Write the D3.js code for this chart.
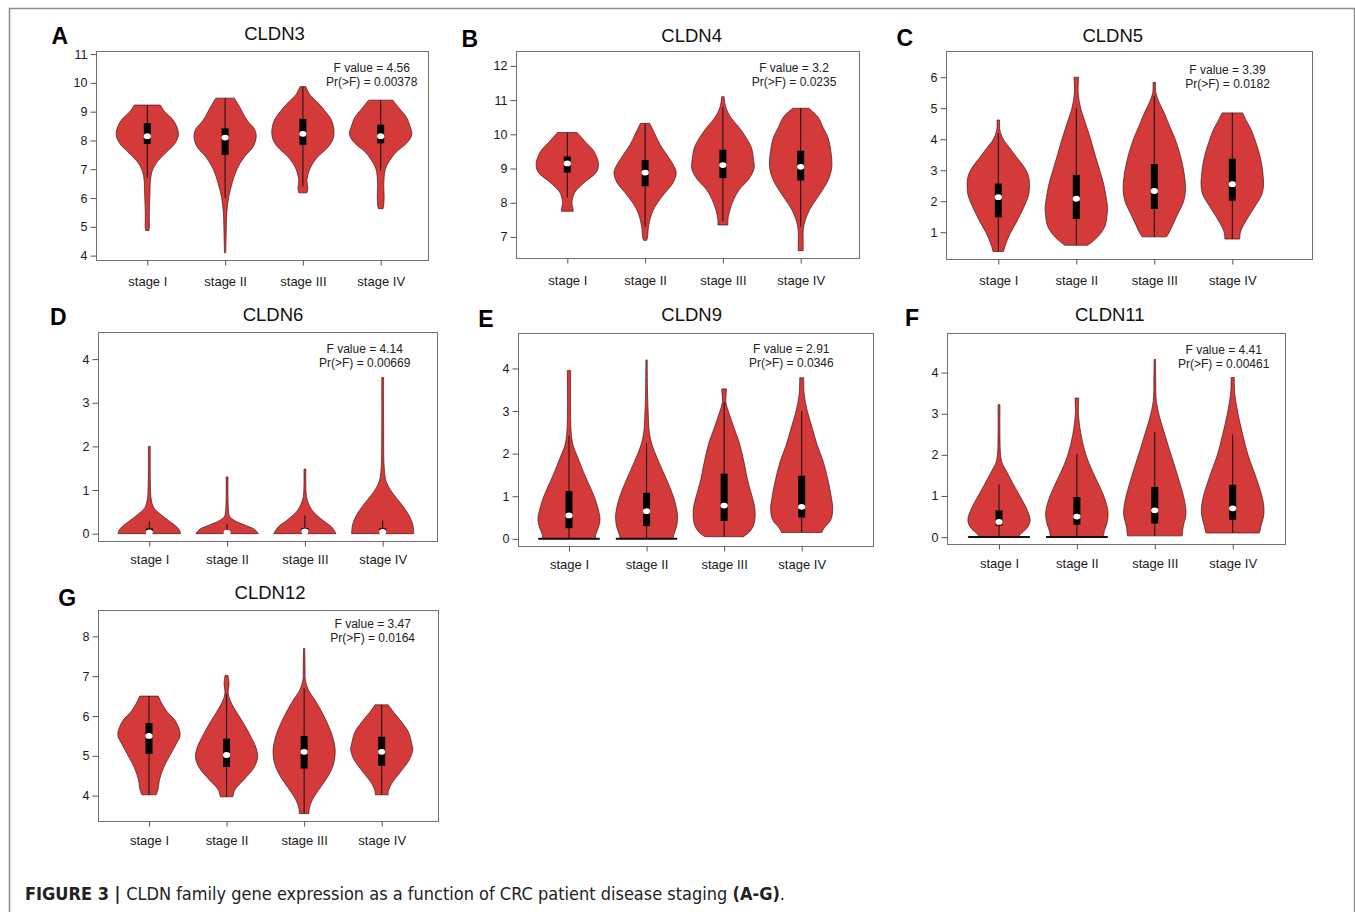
<!DOCTYPE html>
<html>
<head>
<meta charset="utf-8">
<script src="https://cdn.jsdelivr.net/npm/d3@7"></script>
<style>
	body { margin: 0; background: #fff; }
	svg { display: block; font-family: "Liberation Sans", Arial, sans-serif; }
</style>
</head>
<body>
<script>
// categories and panel texts
var stages = ["stage I", "stage II", "stage III", "stage IV"];
var genes = ["CLDN3", "CLDN4", "CLDN5", "CLDN6", "CLDN9", "CLDN11", "CLDN12"];
var letters = ["A", "B", "C", "D", "E", "F", "G"];
var fValues = ["4.56", "3.2", "3.39", "4.14", "2.91", "4.41", "3.47"];
var pValues = ["0.00378", "0.0235", "0.0182", "0.00669", "0.0346", "0.00461", "0.0164"];

// y axes
var yTickValues = [
	[4, 5, 6, 7, 8, 9, 10, 11],
	[7, 8, 9, 10, 11, 12],
	[1, 2, 3, 4, 5, 6],
	[0, 1, 2, 3, 4],
	[0, 1, 2, 3, 4],
	[0, 1, 2, 3, 4],
	[4, 5, 6, 7, 8]
];
var yRanges = [[3.83, 11.09], [6.37, 12.42], [0.12, 6.83], [-0.18, 4.61], [-0.18, 4.82], [-0.18, 4.95], [3.35, 8.65]];

// box stats per stage: [lower whisker, q1, median, q3, upper whisker]
var statsCLDN3 = [[6.7, 7.88, 8.15, 8.6, 9.23], [6.0, 7.5, 8.1, 8.42, 9.47], [6.4, 7.85, 8.23, 8.75, 9.87], [6.95, 7.9, 8.15, 8.55, 9.4]];
var statsCLDN4 = [[8.15, 8.88, 9.15, 9.35, 10.05], [7.3, 8.48, 8.88, 9.25, 10.32], [7.45, 8.72, 9.1, 9.55, 10.8], [7.3, 8.65, 9.05, 9.52, 10.76]];
var statsCLDN5 = [[0.38, 1.48, 2.13, 2.57, 4.2], [0.58, 1.43, 2.08, 2.85, 5.0], [0.85, 1.75, 2.33, 3.2, 5.4], [0.78, 2.02, 2.55, 3.37, 4.85]];
var statsCLDN6 = [[0, 0, 0.03, 0.12, 0.28], [0, 0, 0.02, 0.05, 0.22], [0, 0, 0.05, 0.13, 0.42], [0, 0, 0.04, 0.12, 0.3]];
var statsCLDN9 = [[0, 0.25, 0.55, 1.12, 2.42], [0, 0.3, 0.65, 1.08, 2.25], [0.05, 0.42, 0.78, 1.53, 3.2], [0.15, 0.5, 0.75, 1.48, 3.0]];
var statsCLDN11 = [[0, 0.28, 0.37, 0.65, 1.28], [0, 0.3, 0.5, 0.97, 2.02], [0.03, 0.33, 0.65, 1.22, 2.55], [0.1, 0.42, 0.7, 1.27, 2.5]];
var statsCLDN12 = [[4.02, 5.05, 5.5, 5.82, 6.5], [3.97, 4.72, 5.02, 5.43, 6.55], [3.55, 4.68, 5.1, 5.5, 6.7], [4.02, 4.75, 5.1, 5.48, 6.28]];

// violin outlines per stage: [expression value, relative half width]
var shapeCLDN3 = [
	[[4.87, 0.055], [5.0, 0.065], [5.5, 0.065], [6.0, 0.08], [6.7, 0.11], [7.0, 0.18], [7.3, 0.35], [7.6, 0.62], [7.9, 0.89], [8.2, 1.0], [8.5, 0.94], [8.75, 0.8], [9.0, 0.56], [9.23, 0.42]],
	[[4.1, 0.02], [4.5, 0.03], [5.0, 0.04], [5.5, 0.055], [6.0, 0.11], [6.5, 0.22], [7.0, 0.38], [7.4, 0.6], [7.8, 0.91], [8.15, 1.0], [8.4, 0.94], [8.71, 0.7], [9.2, 0.45], [9.47, 0.3]],
	[[6.18, 0.13], [6.35, 0.16], [6.6, 0.13], [7.0, 0.22], [7.4, 0.45], [7.7, 0.75], [8.0, 0.95], [8.3, 1.0], [8.7, 0.92], [9.0, 0.73], [9.3, 0.49], [9.6, 0.22], [9.87, 0.09]],
	[[5.63, 0.075], [5.7, 0.09], [6.0, 0.11], [6.5, 0.1], [7.0, 0.15], [7.3, 0.29], [7.6, 0.5], [7.9, 0.83], [8.2, 1.0], [8.5, 0.94], [8.8, 0.83], [9.1, 0.61], [9.4, 0.39]]
];
var shapeCLDN4 = [
	[[7.75, 0.19], [7.85, 0.18], [8.0, 0.15], [8.3, 0.24], [8.6, 0.56], [8.9, 0.94], [9.15, 1.0], [9.5, 0.86], [9.8, 0.56], [10.05, 0.32]],
	[[6.9, 0.05], [7.0, 0.08], [7.3, 0.11], [7.7, 0.22], [8.0, 0.4], [8.3, 0.65], [8.6, 0.91], [8.88, 1.0], [9.1, 0.91], [9.4, 0.7], [9.7, 0.48], [10.0, 0.32], [10.32, 0.15]],
	[[7.35, 0.16], [7.5, 0.16], [7.8, 0.23], [8.1, 0.35], [8.4, 0.54], [8.7, 0.84], [9.0, 1.0], [9.3, 0.98], [9.6, 0.92], [9.9, 0.75], [10.2, 0.52], [10.5, 0.25], [10.8, 0.09], [11.1, 0.04]],
	[[6.6, 0.08], [6.9, 0.08], [7.2, 0.08], [7.5, 0.15], [7.8, 0.29], [8.1, 0.5], [8.4, 0.72], [8.7, 0.9], [9.05, 1.0], [9.5, 0.97], [9.9, 0.88], [10.2, 0.72], [10.5, 0.56], [10.76, 0.26]]
];
var shapeCLDN5 = [
	[[0.38, 0.17], [0.5, 0.2], [0.7, 0.27], [1.0, 0.4], [1.3, 0.57], [1.6, 0.72], [1.9, 0.86], [2.2, 0.97], [2.5, 1.0], [2.8, 0.97], [3.1, 0.83], [3.4, 0.6], [3.7, 0.38], [4.0, 0.16], [4.3, 0.05], [4.62, 0.04]],
	[[0.58, 0.37], [0.74, 0.57], [0.96, 0.78], [1.2, 0.92], [1.5, 0.98], [1.8, 1.0], [2.1, 0.96], [2.5, 0.89], [3.0, 0.75], [3.5, 0.6], [4.0, 0.46], [4.5, 0.3], [5.0, 0.14], [5.5, 0.06], [6.0, 0.075]],
	[[0.85, 0.39], [1.0, 0.48], [1.3, 0.62], [1.6, 0.76], [2.0, 0.94], [2.4, 1.0], [2.8, 0.97], [3.2, 0.9], [3.6, 0.8], [4.0, 0.67], [4.4, 0.5], [4.8, 0.34], [5.2, 0.15], [5.5, 0.05], [5.83, 0.04]],
	[[0.78, 0.24], [1.0, 0.26], [1.3, 0.4], [1.6, 0.58], [1.9, 0.77], [2.2, 0.94], [2.5, 1.0], [2.8, 0.99], [3.2, 0.94], [3.6, 0.85], [4.0, 0.72], [4.3, 0.61], [4.6, 0.45], [4.85, 0.33]]
];
var shapeCLDN6 = [
	[[0, 1.0], [0.05, 0.99], [0.15, 0.89], [0.3, 0.62], [0.45, 0.35], [0.6, 0.14], [0.8, 0.06], [1.0, 0.04], [1.5, 0.03], [2.0, 0.03]],
	[[0, 1.0], [0.1, 0.88], [0.2, 0.56], [0.3, 0.24], [0.4, 0.08], [0.5, 0.05], [0.8, 0.03], [1.3, 0.03]],
	[[0, 1.0], [0.15, 0.86], [0.3, 0.59], [0.5, 0.27], [0.7, 0.11], [0.85, 0.05], [1.1, 0.03], [1.48, 0.03]],
	[[0, 1.0], [0.2, 0.97], [0.4, 0.86], [0.6, 0.68], [0.8, 0.46], [1.0, 0.25], [1.2, 0.11], [1.5, 0.05], [2.5, 0.03], [3.58, 0.03]]
];
var shapeCLDN9 = [
	[[0, 0.85], [0.1, 0.86], [0.25, 0.94], [0.45, 1.0], [0.7, 0.94], [1.0, 0.81], [1.3, 0.63], [1.6, 0.45], [1.9, 0.29], [2.2, 0.13], [2.5, 0.07], [3.0, 0.05], [3.5, 0.05], [3.95, 0.055]],
	[[0, 0.85], [0.1, 0.88], [0.3, 0.97], [0.5, 1.0], [0.7, 0.97], [1.0, 0.86], [1.3, 0.7], [1.6, 0.52], [1.9, 0.34], [2.2, 0.18], [2.5, 0.09], [3.0, 0.05], [3.5, 0.03], [4.2, 0.02]],
	[[0.05, 0.62], [0.15, 0.8], [0.3, 0.94], [0.55, 1.0], [0.8, 0.97], [1.1, 0.86], [1.4, 0.75], [1.7, 0.67], [2.0, 0.58], [2.3, 0.47], [2.6, 0.32], [2.9, 0.18], [3.2, 0.06], [3.52, 0.08]],
	[[0.15, 0.65], [0.25, 0.72], [0.45, 0.94], [0.7, 1.0], [1.0, 0.95], [1.4, 0.84], [1.8, 0.7], [2.2, 0.5], [2.6, 0.34], [3.0, 0.18], [3.4, 0.08], [3.78, 0.065]]
];
var shapeCLDN11 = [
	[[0, 0.62], [0.08, 0.7], [0.2, 0.88], [0.4, 1.0], [0.7, 0.88], [1.0, 0.67], [1.3, 0.45], [1.6, 0.24], [1.8, 0.1], [2.0, 0.05], [2.5, 0.03], [3.22, 0.03]],
	[[0, 0.85], [0.15, 0.88], [0.35, 0.97], [0.6, 1.0], [0.9, 0.91], [1.2, 0.75], [1.6, 0.5], [2.0, 0.29], [2.5, 0.13], [3.0, 0.05], [3.38, 0.06]],
	[[0.03, 0.88], [0.25, 0.91], [0.55, 1.0], [0.9, 0.95], [1.3, 0.81], [1.7, 0.65], [2.1, 0.48], [2.5, 0.32], [2.9, 0.16], [3.3, 0.05], [3.8, 0.03], [4.32, 0.02]],
	[[0.1, 0.86], [0.3, 0.92], [0.55, 1.0], [0.85, 0.98], [1.2, 0.86], [1.6, 0.68], [2.0, 0.49], [2.5, 0.32], [3.0, 0.17], [3.5, 0.065], [3.88, 0.05]]
];
var shapeCLDN12 = [
	[[4.02, 0.23], [4.15, 0.29], [4.4, 0.34], [4.7, 0.47], [5.0, 0.67], [5.3, 0.88], [5.5, 1.0], [5.65, 0.98], [5.9, 0.83], [6.1, 0.59], [6.3, 0.42], [6.5, 0.3]],
	[[3.97, 0.2], [4.15, 0.27], [4.4, 0.56], [4.7, 0.88], [4.95, 1.0], [5.2, 0.95], [5.5, 0.77], [5.8, 0.56], [6.1, 0.32], [6.4, 0.11], [6.6, 0.05], [6.8, 0.08], [7.02, 0.05]],
	[[3.55, 0.16], [3.65, 0.16], [3.9, 0.27], [4.2, 0.52], [4.5, 0.78], [4.8, 0.95], [5.15, 1.0], [5.5, 0.91], [5.8, 0.76], [6.1, 0.57], [6.4, 0.35], [6.65, 0.14], [6.9, 0.04], [7.2, 0.03], [7.7, 0.02]],
	[[4.02, 0.21], [4.1, 0.21], [4.3, 0.32], [4.6, 0.61], [4.9, 0.89], [5.15, 1.0], [5.3, 0.97], [5.6, 0.86], [5.9, 0.59], [6.1, 0.38], [6.28, 0.21]]
];
// black floor line at zero (relative width, 0 = none)
var floorCLDN9 = [0.99, 0.99, 0, 0];
var floorCLDN11 = [0.99, 0.99, 0, 0];

var allStats = [statsCLDN3, statsCLDN4, statsCLDN5, statsCLDN6, statsCLDN9, statsCLDN11, statsCLDN12];
var allShapes = [shapeCLDN3, shapeCLDN4, shapeCLDN5, shapeCLDN6, shapeCLDN9, shapeCLDN11, shapeCLDN12];
var allFloors = [null, null, null, null, floorCLDN9, floorCLDN11, null];

// panel layout: plot box [left, top, right, bottom], first/last category x, title, letter, annotation, x label offset
var layout = [
	{ box: [96.5, 51.5, 428.5, 260.5], c: [147.3, 380.7], title: [274.5, 39.5], letter: [51.5, 44], note: [371.7, 67.7], xl: 21 },
	{ box: [516.5, 51.5, 859.5, 258.5], c: [567.3, 800.7], title: [691.7, 42], letter: [461.5, 46.5], note: [794, 67.7], xl: 22 },
	{ box: [946.5, 51.5, 1312.5, 259.5], c: [998.3, 1232.3], title: [1112.8, 41.5], letter: [896.5, 46], note: [1227.5, 69.3], xl: 20.5 },
	{ box: [98.5, 332.5, 437.5, 541.5], c: [149.3, 382.7], title: [273, 320.7], letter: [50, 325], note: [364.7, 349], xl: 17.5 },
	{ box: [518.5, 333.5, 873.5, 546.5], c: [569, 801.7], title: [691.7, 320.7], letter: [478.3, 326.7], note: [791.3, 349], xl: 17.5 },
	{ box: [947.5, 333.5, 1285.5, 544.5], c: [999, 1232.7], title: [1109.8, 320.7], letter: [905, 326], note: [1223.7, 349.3], xl: 19 },
	{ box: [98.5, 610.5, 438.5, 821.5], c: [149, 381.7], title: [270, 599], letter: [58.3, 606], note: [372.7, 624], xl: 18.5 }
];

var violinFill = "#d53a3a";
var violinEdge = "#4a1212";

var svg = d3.select("body")
			.append("svg")
			.attr("width", 1355)
			.attr("height", 912);

// outer frame of the figure
svg.append("rect")
	.attr("x", 9.5)
	.attr("y", 8.5)
	.attr("width", 1345)
	.attr("height", 960)
	.attr("fill", "none")
	.attr("stroke", "#8c8c8c")
	.attr("stroke-width", 1.5);

for (var i = 0; i < genes.length; i++) {
	drawPanel(i);
}

// caption
var cap = svg.append("text")
	.attr("x", 25)
	.attr("y", 900)
	.attr("font-family", "'DejaVu Sans Condensed', 'Liberation Sans', sans-serif")
	.attr("font-size", 18)
	.attr("textLength", 760)
	.attr("lengthAdjust", "spacingAndGlyphs")
	.attr("fill", "#222");
cap.append("tspan").attr("font-weight", "bold").text("FIGURE 3 | ");
cap.append("tspan").text("CLDN family gene expression as a function of CRC patient disease staging ");
cap.append("tspan").attr("font-weight", "bold").text("(A-G)");
cap.append("tspan").text(".");

// Function that draws one violin panel
function drawPanel(i) {
	var L = layout[i];
	var g = svg.append("g");
	var x = d3.scalePoint().domain(stages).range(L.c);
	var y = d3.scaleLinear().domain(yRanges[i]).range([L.box[3], L.box[1]]);
	var halfW = 0.4 * x.step();

	// plot box
	g.append("rect")
		.attr("x", L.box[0])
		.attr("y", L.box[1])
		.attr("width", L.box[2] - L.box[0])
		.attr("height", L.box[3] - L.box[1])
		.attr("fill", "none")
		.attr("stroke", "#707070")
		.attr("stroke-width", 1);

	// axes
	var ya = g.append("g")
		.attr("transform", "translate(" + L.box[0] + ",0)")
		.call(d3.axisLeft(y).tickValues(yTickValues[i]).tickSize(6).tickPadding(3).tickFormat(d3.format("d")));
	ya.select(".domain").remove();
	ya.selectAll("line").attr("stroke", "#555");
	ya.selectAll("text").attr("font-size", 12.5).attr("fill", "#1a1a1a").attr("font-family", "'Liberation Sans', Arial, sans-serif");

	var xa = g.append("g")
		.attr("transform", "translate(0," + L.box[3] + ")")
		.call(d3.axisBottom(x).tickSize(5).tickPadding(L.xl - 9.5));
	xa.select(".domain").remove();
	xa.selectAll("line").attr("stroke", "#555");
	xa.selectAll("text").attr("font-size", 13).attr("fill", "#1a1a1a").attr("font-family", "'Liberation Sans', Arial, sans-serif");

	// violins
	stages.forEach(function(s, j) {
		var cx = x(s);
		var shape = allShapes[i][j];
		var st = allStats[i][j];
		var area = d3.area()
			.curve(d3.curveCatmullRom.alpha(0.5))
			.y(function(d) { return y(d[0]); })
			.x0(function(d) { return cx - d[1] * halfW; })
			.x1(function(d) { return cx + d[1] * halfW; });
		g.append("path")
			.datum(shape)
			.attr("d", area)
			.attr("fill", violinFill)
			.attr("stroke", violinEdge)
			.attr("stroke-width", 0.7);

		var fl = allFloors[i] ? allFloors[i][j] : 0;
		if (fl > 0) {
			g.append("line")
				.attr("x1", cx - fl * halfW)
				.attr("x2", cx + fl * halfW)
				.attr("y1", y(shape[0][0]))
				.attr("y2", y(shape[0][0]))
				.attr("stroke", "#111")
				.attr("stroke-width", 2);
		}

		// whisker
		g.append("line")
			.attr("x1", cx).attr("x2", cx)
			.attr("y1", y(st[0])).attr("y2", y(st[4]))
			.attr("stroke", "#111")
			.attr("stroke-width", 1);
		// interquartile box
		g.append("rect")
			.attr("x", cx - 3.5)
			.attr("width", 7)
			.attr("y", y(st[3]))
			.attr("height", Math.max(1, y(st[1]) - y(st[3])))
			.attr("fill", "#000");
		// median
		g.append("ellipse")
			.attr("cx", cx)
			.attr("cy", y(st[2]))
			.attr("rx", 3.6)
			.attr("ry", 2.9)
			.attr("fill", "#fff");
	});

	// title and panel letter
	g.append("text")
		.attr("x", L.title[0])
		.attr("y", L.title[1])
		.attr("text-anchor", "middle")
		.attr("font-size", 18.5)
		.attr("fill", "#111")
		.text(genes[i]);
	g.append("text")
		.attr("x", L.letter[0])
		.attr("y", L.letter[1])
		.attr("font-size", 23)
		.attr("font-weight", "bold")
		.attr("fill", "#000")
		.text(letters[i]);

	// F test annotation
	g.append("text")
		.attr("x", L.note[0])
		.attr("y", L.note[1] + 4.3)
		.attr("text-anchor", "middle")
		.attr("font-size", 12)
		.attr("fill", "#222")
		.text("F value = " + fValues[i]);
	g.append("text")
		.attr("x", L.note[0])
		.attr("y", L.note[1] + 18.3)
		.attr("text-anchor", "middle")
		.attr("font-size", 12)
		.attr("fill", "#222")
		.text("Pr(>F) = " + pValues[i]);
}
</script>
</body>
</html>
